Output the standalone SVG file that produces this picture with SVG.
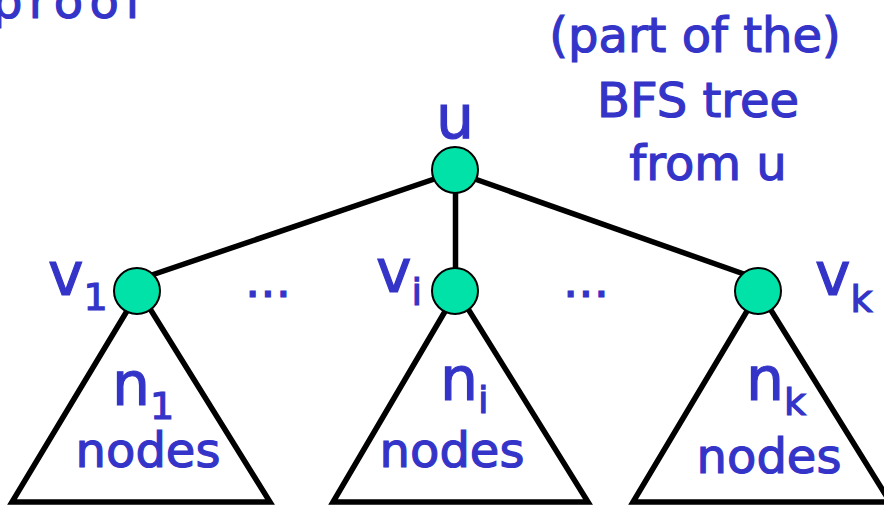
<svg xmlns="http://www.w3.org/2000/svg" width="884" height="506" viewBox="0 0 884 506">
  <style>
    .lbl { fill: #3434C8; stroke: #3434C8; stroke-width: 1.2; font-family: "Comic Sans MS", "DejaVu Sans", sans-serif; }
    .big { font-size: 60px; }
    .mid { font-size: 48px; }
    .sub { font-size: 38px; }
    .edge { stroke: #000; stroke-width: 5.5; fill: none; }
    .tri { stroke: #000; stroke-width: 5.5; fill: #fff; stroke-linejoin: miter; }
    .node { fill: #00E2A8; stroke: #000; stroke-width: 2; }
  </style>

  <rect width="884" height="506" fill="#fff"/>

  <!-- heading, partly off the top edge -->
  <text class="lbl mid" x="-8" y="18" textLength="150" lengthAdjust="spacing">proof</text>

  <!-- caption -->
  <g id="caption" class="lbl mid" text-anchor="middle">
    <text x="695" y="52">(part of the)</text>
    <text x="698" y="117">BFS tree</text>
    <text x="708" y="180">from u</text>
  </g>

  <!-- subtrees hanging below each child -->
  <g id="subtree-1">
    <polygon class="tri" points="139,291 12,502 270,502"/>
    <text class="lbl" x="112" y="405"><tspan class="big">n</tspan><tspan class="sub" dy="14">1</tspan></text>
    <text class="lbl mid" x="148" y="467" text-anchor="middle">nodes</text>
  </g>
  <g id="subtree-i">
    <polygon class="tri" points="457,291 333,502 588,502"/>
    <text class="lbl" x="440" y="400"><tspan class="big">n</tspan><tspan class="sub" dy="13">i</tspan></text>
    <text class="lbl mid" x="452" y="467" text-anchor="middle">nodes</text>
  </g>
  <g id="subtree-k">
    <polygon class="tri" points="759,291 633,502 890,502"/>
    <text class="lbl" x="746" y="400"><tspan class="big">n</tspan><tspan class="sub" dy="15">k</tspan></text>
    <text class="lbl mid" x="769" y="473" text-anchor="middle">nodes</text>
  </g>

  <!-- tree edges from the root -->
  <g id="edges">
    <line class="edge" x1="455" y1="172" x2="140" y2="279"/>
    <line class="edge" x1="455.5" y1="170" x2="455.5" y2="291"/>
    <line class="edge" x1="455" y1="172" x2="758" y2="279"/>
  </g>

  <!-- root -->
  <g id="node-u">
    <circle class="node" cx="455" cy="170" r="23"/>
    <text class="lbl big" x="455" y="138" text-anchor="middle">u</text>
  </g>

  <!-- children -->
  <g id="node-v1">
    <circle class="node" cx="137" cy="291" r="23"/>
    <text class="lbl" x="48" y="295"><tspan class="big">v</tspan><tspan class="sub" dy="15">1</tspan></text>
  </g>
  <g id="node-vi">
    <circle class="node" cx="455" cy="291" r="23"/>
    <text class="lbl" x="376" y="292"><tspan class="big">v</tspan><tspan class="sub" dy="13">i</tspan></text>
  </g>
  <g id="node-vk">
    <circle class="node" cx="758" cy="291" r="23"/>
    <text class="lbl" x="815" y="295"><tspan class="big">v</tspan><tspan class="sub" dy="17">k</tspan></text>
  </g>

  <!-- elided siblings -->
  <g id="ellipses" class="lbl mid" text-anchor="middle">
    <text x="268" y="297">...</text>
    <text x="586" y="297">...</text>
  </g>
</svg>
